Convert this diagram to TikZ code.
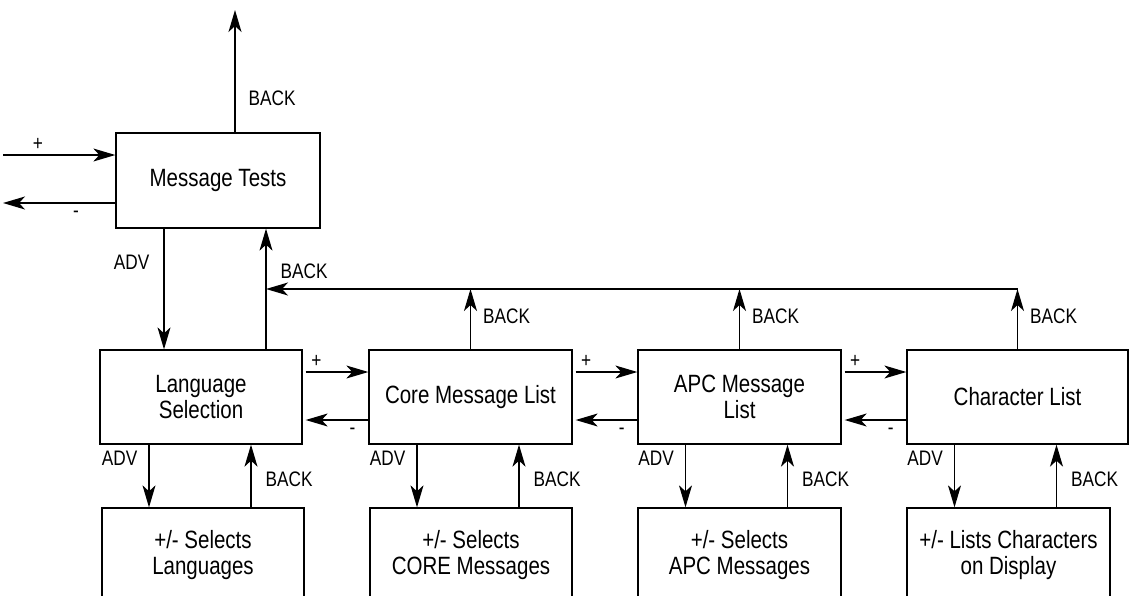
\documentclass[tikz,border=0pt]{standalone}
\usepackage{fontspec}
\setmainfont{Liberation Sans}[FakeStretch=0.82]
\usetikzlibrary{arrows.meta}

\begin{document}
\begin{tikzpicture}[x=1pt, y=-1pt, line width=1.3pt, >={Stealth[length=22pt, width=13pt, inset=6pt]}]

\tikzstyle{block} = [rectangle, draw, text centered, align=center, minimum width=203pt, minimum height=94pt, font=\fontsize{25}{26}\selectfont]
\tikzstyle{lbl} = [inner sep=2pt, font=\fontsize{21}{24}\selectfont]

\clip (0,0) rectangle (1136,595);

% Nodes
\node[block, minimum width=204pt, minimum height=95pt] (tests) at (218,180.5) {Message Tests};
\node[block, minimum width=202pt] (lang) at (201,397) {Language\\Selection};
\node[block] (core) at (470.5,397) {Core Message List};
\node[block] (apc) at (739.5,397) {APC Message\\List};
\node[block, minimum width=221pt] (chars) at (1017.5,397) {Character List};
\node[block, minimum width=202pt] (langsel) at (203,555) {+/- Selects\\Languages};
\node[block, minimum width=202pt] (coresel) at (471,555) {+/- Selects\\CORE Messages};
\node[block] (apcsel) at (739.5,555) {+/- Selects\\APC Messages};
\node[block] (charsel) at (1008.5,555) {+/- Lists Characters\\on Display};

\coordinate (exit) at (235,10);
\coordinate (plusin) at (3,155);
\coordinate (minusout) at (3,203);
\coordinate (testsadv) at ([xshift=-54pt]tests.south);
\coordinate (langback) at ([xshift=65pt]lang.north);
\coordinate (bus) at (0,289);

% Connections
\draw[->] (exit |- tests.north) -- (exit) node[lbl, pos=0.28, right=11pt] {BACK};
\draw[->] (plusin) -- (plusin -| tests.west) node[lbl, pos=0.31, above=2pt] {+};
\draw[->] (minusout -| tests.west) -- (minusout) node[lbl, pos=0.35, below=5pt] {-};
\draw[->] (testsadv) -- (testsadv |- lang.north) node[lbl, pos=0.28, left=12pt] {ADV};
\draw[->] (langback) -- (langback |- tests.south) node[lbl, pos=0.65, right=12pt] {BACK};

% BACK bus along the top
\draw[->] (core.north) -- (core.north |- bus) node[lbl, pos=0.54, right=10pt] {BACK};
\draw[->] (apc.north) -- (apc.north |- bus) node[lbl, pos=0.54, right=10pt] {BACK};
\draw[->] (chars.north) -- (chars.north |- bus) node[lbl, pos=0.54, right=10pt] {BACK};
\draw[->] (chars.north |- bus) -- (langback |- bus);

\foreach \a/\b in {lang/core, core/apc, apc/chars} {
  \draw[->, shorten <=3pt] ([yshift=25pt]\a.east) -- ([yshift=25pt]\b.west) node[lbl, pos=0.21, above=2pt] {+};
  \draw[->, shorten >=3pt] ([yshift=-23pt]\b.west) -- ([yshift=-23pt]\a.east) node[lbl, pos=0.24, below=5pt] {-};
}

\foreach \a/\b in {lang/langsel, core/coresel, apc/apcsel, chars/charsel} {
  \draw[->] ([xshift=-54pt]\b.north |- \a.south) -- ([xshift=-54pt]\b.north) node[lbl, pos=0.22, left=9pt] {ADV};
  \draw[->] ([xshift=48pt]\b.north) -- ([xshift=48pt]\b.north |- \a.south) node[lbl, pos=0.44, right=12pt] {BACK};
}

\end{tikzpicture}
\end{document}
